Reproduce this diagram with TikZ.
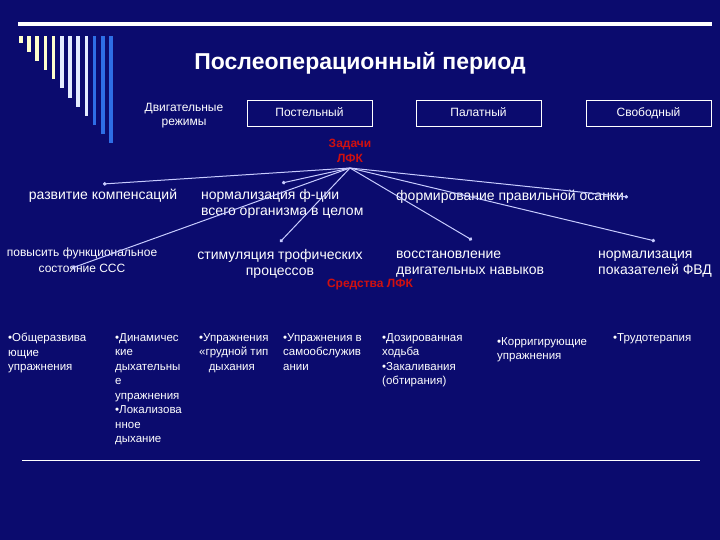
\documentclass[tikz,border=0pt]{standalone}
\usepackage{fontspec}
\setmainfont{Liberation Sans}
\usetikzlibrary{arrows.meta}
\definecolor{bg}{HTML}{0B0B6E}
\definecolor{lfkred}{HTML}{D01010}
\definecolor{arr}{HTML}{C8CCFF}
\definecolor{pale}{HTML}{FFFFCC}
\definecolor{wb}{HTML}{E4ECFF}
\definecolor{bb}{HTML}{2E6EE6}
\begin{document}
\begin{tikzpicture}[x=1pt,y=-1pt,
  txt/.style={text=white,font=\fontsize{14}{16}\selectfont,inner sep=0pt,align=left},
  sm/.style={text=white,font=\fontsize{11.5}{14.5}\selectfont,inner sep=0pt,align=left,anchor=north west},
  modebox/.style={draw=white,line width=0.6pt,minimum width=125pt,minimum height=26pt,text height=9pt,text depth=2pt,text=white,font=\fontsize{12}{13}\selectfont},
  conn/.style={draw=arr,line width=1pt,-{Circle[length=3.5pt]}}]
\fill[bg] (0,0) rectangle (720,540);
\useasboundingbox (0,0) rectangle (720,540);
% decoration
\fill[white] (18,22) rectangle (712,26);
\foreach \i/\c in {0/pale,1/pale,2/pale,3/pale,4/pale,5/wb,6/wb,7/wb,8/wb,9/bb,10/bb,11/bb}
  \fill[\c] ({19+8.2*\i},36) rectangle ({22.5+8.2*\i},{43+9.1*\i});
\node[text=white,font=\bfseries\fontsize{23}{26}\selectfont] (title) at (360,63) {Послеоперационный период};
\node[text=white,font=\fontsize{12}{14}\selectfont,align=center] (dr) at (184,116) {Двигательные\\режимы};
\node[modebox] (b1) at (309.5,113) {Постельный};
\node[modebox] (b2) at (478.5,113) {Палатный};
\node[modebox] (b3) at (648.5,113) {Свободный};
\node[text=lfkred,font=\bfseries\fontsize{12}{15}\selectfont,align=center] (zad) at (350,151) {Задачи\\ЛФК};
\coordinate (hub) at (350,168);
\node[txt,align=center] (t1) at (103,196) {развитие компенсаций};
\node[txt,anchor=west] (t2) at (201,204) {нормализация ф-ции\\всего организма в целом};
\node[txt,anchor=west] (t3) at (396,197) {формирование правильной осанки};
\node[txt,align=center,font=\fontsize{12}{16}\selectfont] (t4) at (82,260) {повысить функциональное\\состояние ССС};
\node[txt,align=center] (t5) at (280,264) {стимуляция трофических\\процессов};
\node[txt,anchor=west] (t6) at (396,264) {восстановление\\двигательных навыков};
\node[txt,anchor=west] (t7) at (598,264) {нормализация\\показателей ФВД};
\coordinate (e1) at (103,184);
\coordinate (e2) at (282,183);
\coordinate (e3) at (628,197);
\coordinate (e4) at (72,268);
\coordinate (e5) at (280,242);
\coordinate (e6) at (472,240);
\coordinate (e7) at (655,241);
\foreach \e in {e1,e2,e3,e4,e5,e6,e7} \draw[conn] (hub) -- (\e);
\node[text=lfkred,font=\bfseries\fontsize{12}{13}\selectfont] (sr) at (370,285) {Средства ЛФК};
\node[sm] (c1) at (8,333) {•Общеразвива\\ющие\\упражнения};
\node[sm] (c2) at (115,333) {•Динамичес\\кие\\дыхательны\\е\\упражнения\\•Локализова\\нное\\дыхание};
\node[sm] (c3) at (199,333) {•Упражнения\\«грудной тип\\\ \ \ дыхания};
\node[sm] (c4) at (283,333) {•Упражнения в\\самообслужив\\ании};
\node[sm] (c5) at (382,333) {•Дозированная\\ходьба\\•Закаливания\\(обтирания)};
\node[sm] (c6) at (497,337) {•Корригирующие\\упражнения};
\node[sm] (c7) at (613,333) {•Трудотерапия};
\draw[white,line width=1pt] (22,460) -- (700,460);
\end{tikzpicture}
\end{document}
